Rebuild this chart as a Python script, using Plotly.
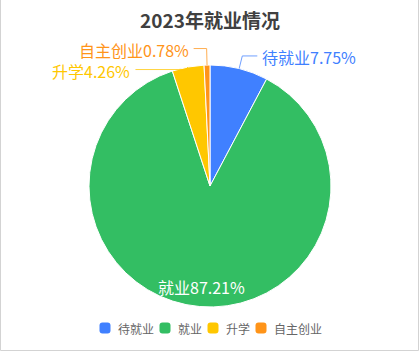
import math
import plotly.graph_objects as go

# ---- data ----
title_text = "2023年就业情况"
categories = ["待就业", "就业", "升学", "自主创业"]
values = [7.75, 87.21, 4.26, 0.78]
colors = ["#4080FF", "#33BE63", "#FFC700", "#FF9419"]

W, H = 420, 352
FONT = "Noto Sans CJK SC, Noto Sans, sans-serif"

# pie geometry (pixels)
CX, CY, R = 210, 186, 121


def px(x):
    return x / W


def py(y):
    return 1 - y / H


fig = go.Figure()
fig.add_trace(go.Pie(
    labels=categories,
    values=values,
    marker=dict(colors=colors, line=dict(color="#ffffff", width=1)),
    sort=False,
    direction="clockwise",
    rotation=0,
    textinfo="none",
    hoverinfo="label+percent",
    showlegend=False,
    domain=dict(x=[0, 1], y=[py(CY + R), py(CY - R)]),
))

# ---- labels computed from slice angles ----
total = sum(values)
mids = []
acc = 0
for v in values:
    mids.append((acc + v / 2) / total * 360)
    acc += v

shapes = []
annotations = []

label_mode = ["outside", "inside", "outside", "outside"]
leader_r = [13, 0, 14, 16.5]
leader_h = [15, 0, 50, 13]
MIN_GAP = 21
LBL_FS = 16

elbows = {}
for i, th in enumerate(mids):
    if label_mode[i] != "outside":
        continue
    t = math.radians(th)
    P = (CX + R * math.sin(t), CY - R * math.cos(t))
    L1 = leader_r[i]
    E = [CX + (R + L1) * math.sin(t), CY - (R + L1) * math.cos(t)]
    elbows[i] = (P, E, math.sin(t) >= 0)

for side in (True, False):
    idx = sorted([i for i in elbows if elbows[i][2] == side], key=lambda k: elbows[k][1][1])
    last = None
    for i in idx:
        E = elbows[i][1]
        if last is not None and E[1] < last + MIN_GAP:
            E[1] = last + MIN_GAP
        last = E[1]

for i, (P, E, right) in elbows.items():
    sgn = 1 if right else -1
    Hx = E[0] + sgn * leader_h[i]
    path = "M {},{} L {},{} L {},{}".format(px(P[0]), py(P[1]), px(E[0]), py(E[1]), px(Hx), py(E[1]))
    shapes.append(dict(type="path", xref="paper", yref="paper", path=path,
                       line=dict(color=colors[i], width=1), opacity=0.75))
    pct = values[i] / total * 100
    annotations.append(dict(
        xref="paper", yref="paper", x=px(Hx + sgn * 4), y=py(E[1] + 1.5),
        xanchor="left" if right else "right", yanchor="middle", borderpad=0,
        text="{}{:.2f}%".format(categories[i], pct), showarrow=False,
        font=dict(family=FONT, size=LBL_FS, color=colors[i]),
    ))

for i, th in enumerate(mids):
    if label_mode[i] != "inside":
        continue
    t = math.radians(th)
    r_in = 0.835 * R
    pct = values[i] / total * 100
    annotations.append(dict(
        xref="paper", yref="paper",
        x=px(CX + r_in * math.sin(t)), y=py(CY - r_in * math.cos(t)),
        xanchor="center", yanchor="middle",
        text="{}{:.2f}%".format(categories[i], pct), showarrow=False,
        font=dict(family=FONT, size=LBL_FS, color="#ffffff"),
    ))

# ---- legend (drawn) ----
LEG_Y = 328
SYM = 11
SYM_GAP = 6
ITEM_GAP = 7
LEG_FS = 12


def tw(s):
    return sum(LEG_FS if ord(c) > 255 else LEG_FS * 0.55 for c in s)


total_w = sum(SYM + SYM_GAP + tw(c) for c in categories) + ITEM_GAP * (len(categories) - 1)
x = W / 2 - total_w / 2


def rrect(x0, y0, x1, y1, r):
    pts = [
        ("M", [(x0 + r, y0)]), ("L", [(x1 - r, y0)]), ("Q", [(x1, y0), (x1, y0 + r)]),
        ("L", [(x1, y1 - r)]), ("Q", [(x1, y1), (x1 - r, y1)]), ("L", [(x0 + r, y1)]),
        ("Q", [(x0, y1), (x0, y1 - r)]), ("L", [(x0, y0 + r)]), ("Q", [(x0, y0), (x0 + r, y0)]),
    ]
    s = ""
    for cmd, ps in pts:
        s += cmd + " " + " ".join("{},{}".format(px(a), py(b)) for a, b in ps) + " "
    return s + "Z"


for i, c in enumerate(categories):
    shapes.append(dict(type="path", xref="paper", yref="paper",
                       path=rrect(x, LEG_Y - SYM / 2, x + SYM, LEG_Y + SYM / 2, 3),
                       fillcolor=colors[i], line=dict(width=0)))
    annotations.append(dict(
        xref="paper", yref="paper", x=px(x + SYM + SYM_GAP - 1), y=py(LEG_Y),
        xanchor="left", yanchor="middle", text=c, showarrow=False,
        font=dict(family=FONT, size=LEG_FS, color="#666666"),
    ))
    x += SYM + SYM_GAP + tw(c) + ITEM_GAP

# border
shapes.append(dict(type="rect", xref="paper", yref="paper",
                   x0=px(0.5), x1=px(W - 1.5), y0=py(H - 1.5), y1=py(-2),
                   line=dict(color="#d3d3d3", width=1), fillcolor="rgba(0,0,0,0)"))

fig.update_layout(
    width=W, height=H,
    margin=dict(l=0, r=0, t=0, b=0),
    paper_bgcolor="#ffffff",
    title=dict(text="<b>" + title_text + "</b>", x=0.5, xanchor="center",
               y=py(21), yanchor="middle", yref="paper",
               font=dict(family=FONT, size=19, color="#404040")),
    shapes=shapes,
    annotations=annotations,
)

fig.write_html("out.html")
